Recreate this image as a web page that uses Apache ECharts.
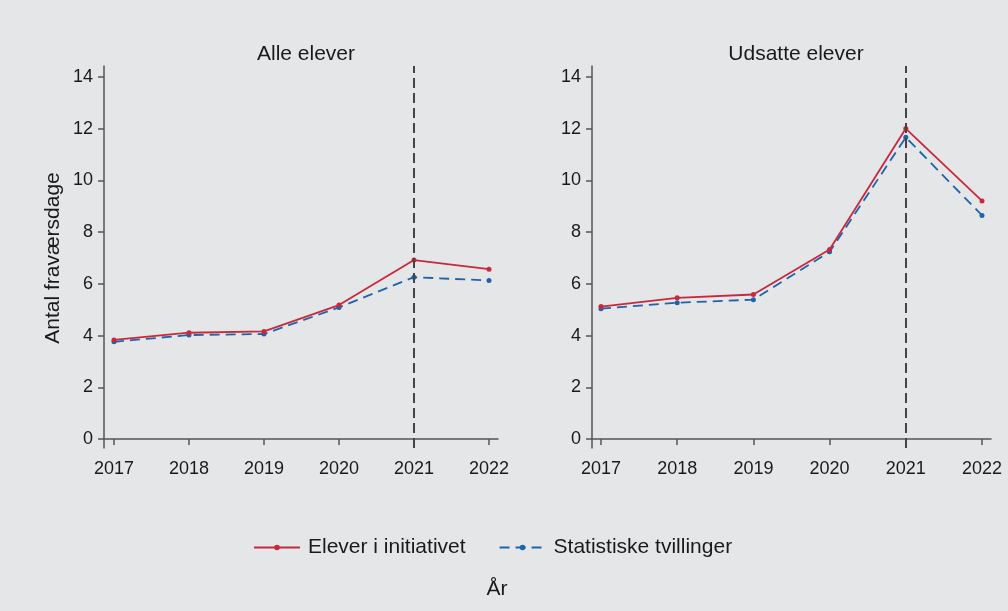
<!DOCTYPE html>
<html>
<head>
<meta charset="utf-8">
<script src="https://cdn.jsdelivr.net/npm/echarts@6/dist/echarts.min.js"></script>
<style>
  html, body { margin: 0; padding: 0; background: #e5e6e8; }
  #chart { width: 1008px; height: 611px; }
</style>
</head>
<body>
<div id="chart"></div>
<script>
// years and tick labels
const years = [2017, 2018, 2019, 2020, 2021, 2022];
const yTicks = [0, 2, 4, 6, 8, 10, 12, 14];
const panelTitles = ["Alle elever", "Udsatte elever"];
const seriesNames = ["Elever i initiativet", "Statistiske tvillinger"];

// Alle elever
const alleInitiativ = [3.83, 4.11, 4.16, 5.18, 6.92, 6.57];
const alleTvillinger = [3.76, 4.02, 4.06, 5.09, 6.26, 6.13];
// Udsatte elever
const udsatteInitiativ = [5.12, 5.46, 5.59, 7.33, 12.01, 9.21];
const udsatteTvillinger = [5.04, 5.27, 5.39, 7.24, 11.67, 8.65];

const cutYear = 2021;

const RED = "#c8283c";
const BLUE = "#1f63ab";
const TXT = "#1a1a1a";
const AXIS = "#555";
const FONT = "Liberation Sans, Arial, sans-serif";

const pairs = (vals) => years.map((y, i) => [y, vals[i]]);

function xAxisFor(idx, min, max) {
  return {
    type: "value", gridIndex: idx, min, max,
    axisLine: { lineStyle: { color: AXIS, width: 1.5 } },
    axisTick: { customValues: years, length: 6, lineStyle: { color: AXIS, width: 1.5 } },
    axisLabel: { customValues: years, formatter: (v) => String(v),
                 color: TXT, fontSize: 18, fontFamily: FONT, margin: 12 },
    splitLine: { show: false }
  };
}
function yAxisFor(idx) {
  return {
    type: "value", gridIndex: idx, min: -0.35, max: 14.43,
    axisLine: { show: true, lineStyle: { color: AXIS, width: 1.5 } },
    axisTick: { show: true, customValues: yTicks, length: 6, lineStyle: { color: AXIS, width: 1.5 } },
    axisLabel: { customValues: yTicks, color: TXT, fontSize: 18, fontFamily: FONT, margin: 11 },
    splitLine: { show: false }
  };
}

function lineSeries(name, vals, idx, color, dashed, withCut) {
  const s = {
    name, type: "line", xAxisIndex: idx, yAxisIndex: idx,
    data: pairs(vals),
    symbol: "circle", symbolSize: 5,
    itemStyle: { color },
    lineStyle: { color, width: 1.8, type: dashed ? [10, 6] : "solid" },
    z: dashed ? 3 : 4,
    animation: false
  };
  if (withCut) {
    s.markLine = {
      silent: true, symbol: "none", label: { show: false },
      lineStyle: { color: "#444", width: 2, type: [10, 5] },
      data: [{ xAxis: cutYear }]
    };
  }
  return s;
}

const chart = echarts.init(document.getElementById("chart"));
chart.setOption({
  backgroundColor: "#e5e6e8",
  animation: false,
  textStyle: { fontFamily: FONT },
  title: [
    { text: panelTitles[0], left: 301, top: 39, textAlign: "center",
      textStyle: { fontSize: 21, fontWeight: "normal", color: TXT, fontFamily: FONT } },
    { text: panelTitles[1], left: 791, top: 39, textAlign: "center",
      textStyle: { fontSize: 21, fontWeight: "normal", color: TXT, fontFamily: FONT } }
  ],
  grid: [
    { left: 104, top: 66, width: 394, height: 382 },
    { left: 592, top: 66, width: 399, height: 382 }
  ],
  xAxis: [
    xAxisFor(0, 2016.867, 2022.12),
    xAxisFor(1, 2016.882, 2022.118)
  ],
  yAxis: [yAxisFor(0), yAxisFor(1)],
  legend: {
    left: 248, top: 532,
    itemWidth: 46, itemHeight: 7, itemGap: 33,
    textStyle: { fontSize: 21, color: TXT, fontFamily: FONT, padding: [0, 0, 0, 3] },
    data: seriesNames
  },
  graphic: [
    { type: "text", x: 53, y: 258, rotation: Math.PI / 2,
      style: { text: "Antal fraværsdage", fontSize: 21, fontFamily: FONT, fill: TXT,
               textAlign: "center", textVerticalAlign: "middle" } },
    { type: "text", x: 497, y: 589,
      style: { text: "År", fontSize: 21, fontFamily: FONT, fill: TXT,
               textAlign: "center", textVerticalAlign: "middle" } }
  ],
  series: [
    lineSeries(seriesNames[0], alleInitiativ, 0, RED, false, true),
    lineSeries(seriesNames[1], alleTvillinger, 0, BLUE, true, false),
    lineSeries(seriesNames[0], udsatteInitiativ, 1, RED, false, true),
    lineSeries(seriesNames[1], udsatteTvillinger, 1, BLUE, true, false)
  ]
});
</script>
</body>
</html>
